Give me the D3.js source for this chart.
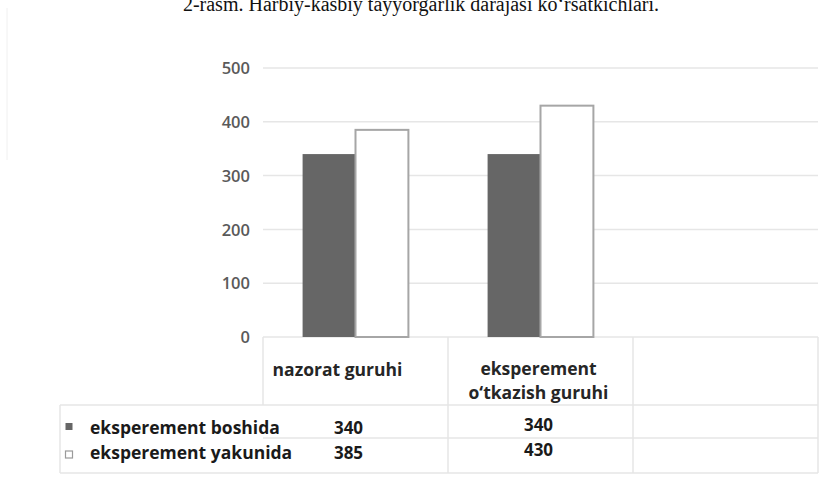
<!DOCTYPE html>
<html><head><meta charset="utf-8">
<script src="https://cdn.jsdelivr.net/npm/d3@7"></script>
<style>body{margin:0;background:#fff}svg{display:block}</style>
</head><body>
<svg id="c" width="835" height="483"></svg>
<script>
const title = "2-rasm. Harbiy-kasbiy tayyorgarlik darajasi ko‘rsatkichlari.";
const categories = ["nazorat guruhi", "eksperement o‘tkazish guruhi", ""];
const categoryLines = [["nazorat guruhi"], ["eksperement", "o‘tkazish guruhi"], []];
const seriesNames = ["eksperement boshida", "eksperement yakunida"];
const boshida = [340, 340];
const yakunida = [385, 430];
const yTicks = [0, 100, 200, 300, 400, 500];

const svg = d3.select("#c");
const gridC = "#e6e6e6";
const font = "'Open Sans', sans-serif";

svg.append("text").attr("x", 421).attr("y", 11).attr("text-anchor", "middle")
  .attr("font-family", "'Liberation Serif', serif").attr("font-size", 20).attr("fill", "#111").text(title);

// faint scan border on left
svg.append("line").attr("x1", 7).attr("x2", 7).attr("y1", 8).attr("y2", 160).attr("stroke", "#f0f0f0");

const x = d3.scaleBand().domain(categories).range([263, 818]);
const y = d3.scaleLinear().domain([0, 500]).range([337, 68]);
const bw = x.bandwidth();
const x1 = d3.scaleBand().domain(seriesNames).range([bw / 2 - bw * 0.286, bw / 2 + bw * 0.286]);

// gridlines
svg.append("g").selectAll("line").data(yTicks.slice(1)).join("line")
  .attr("x1", 263).attr("x2", 818).attr("y1", d => y(d)).attr("y2", d => y(d))
  .attr("stroke", gridC).attr("stroke-width", 1.5);

// y axis labels
const yAxis = d3.axisLeft(y).tickValues(yTicks).tickSize(0).tickPadding(0);
const ga = svg.append("g").attr("transform", "translate(250,0)").call(yAxis);
ga.select(".domain").remove();
ga.selectAll("text").attr("font-family", font).attr("font-size", 16.5).attr("font-weight", 600)
  .attr("fill", "#5a5a5a").attr("dy", "0.35em");

// table lines
const T = svg.append("g").attr("stroke", gridC).attr("stroke-width", 1.5);
T.append("line").attr("x1", 263).attr("x2", 818).attr("y1", y(0)).attr("y2", y(0));
T.append("line").attr("x1", 60).attr("x2", 818).attr("y1", 405).attr("y2", 405);
T.append("line").attr("x1", 263).attr("x2", 818).attr("y1", 438).attr("y2", 438);
T.append("line").attr("x1", 60).attr("x2", 818).attr("y1", 473).attr("y2", 473);
T.append("line").attr("x1", 60).attr("x2", 60).attr("y1", 405).attr("y2", 473);
T.append("line").attr("x1", 263).attr("x2", 263).attr("y1", y(0)).attr("y2", 405);
categories.forEach((c, i) => {
  const xe = x(c) + bw;
  T.append("line").attr("x1", xe).attr("x2", xe).attr("y1", y(0)).attr("y2", 473);
});

// bars
const data = categories.slice(0, 2).map((c, i) => ({c, vals: [boshida[i], yakunida[i]]}));
const fills = ["#666666", "#ffffff"];
const strokes = ["none", "#a6a6a6"];
const g = svg.append("g").selectAll("g").data(data).join("g").attr("transform", d => `translate(${x(d.c)},0)`);
g.selectAll("rect").data(d => d.vals.map((v, k) => ({k, v}))).join("rect")
  .attr("x", d => x1(seriesNames[d.k]))
  .attr("y", d => y(d.v))
  .attr("width", x1.bandwidth())
  .attr("height", d => y(0) - y(d.v))
  .attr("fill", d => fills[d.k])
  .attr("stroke", d => strokes[d.k]).attr("stroke-width", 2);

// category labels
categories.forEach((c, i) => {
  const lines = categoryLines[i];
  const cx = x(c) + bw / 2 + (i === 0 ? -18 : -2);
  lines.forEach((t, j) => {
    svg.append("text").attr("x", cx).attr("y", (lines.length === 1 ? 376 : 375) + j * 24)
      .attr("text-anchor", "middle").attr("font-family", font).attr("font-size", 17.5)
      .attr("font-weight", 700).attr("fill", "#262626").text(t);
  });
});

// legend rows
const rowY = [434, 459];
seriesNames.forEach((s, k) => {
  svg.append("rect").attr("x", 65.5).attr("y", rowY[k] - 8 + (k === 0 ? -3 : 0)).attr("width", 7).attr("height", 7)
    .attr("fill", fills[k]).attr("stroke", k === 0 ? "none" : "#9a9a9a").attr("stroke-width", 1.2);
  svg.append("text").attr("x", 90).attr("y", rowY[k]).attr("font-family", font).attr("font-size", 17.5)
    .attr("font-weight", 700).attr("fill", "#1a1a1a").text(s);
  const vals = k === 0 ? boshida : yakunida;
  vals.forEach((v, i) => {
    const cx = x(categories[i]) + bw / 2 + (i === 0 ? -7 : -2);
    svg.append("text").attr("x", cx).attr("y", rowY[k] + (i === 1 ? -3 : 0)).attr("text-anchor", "middle")
      .attr("font-family", font).attr("font-size", 17).attr("font-weight", 700).attr("fill", "#1a1a1a").text(v);
  });
});
</script>
</body></html>
